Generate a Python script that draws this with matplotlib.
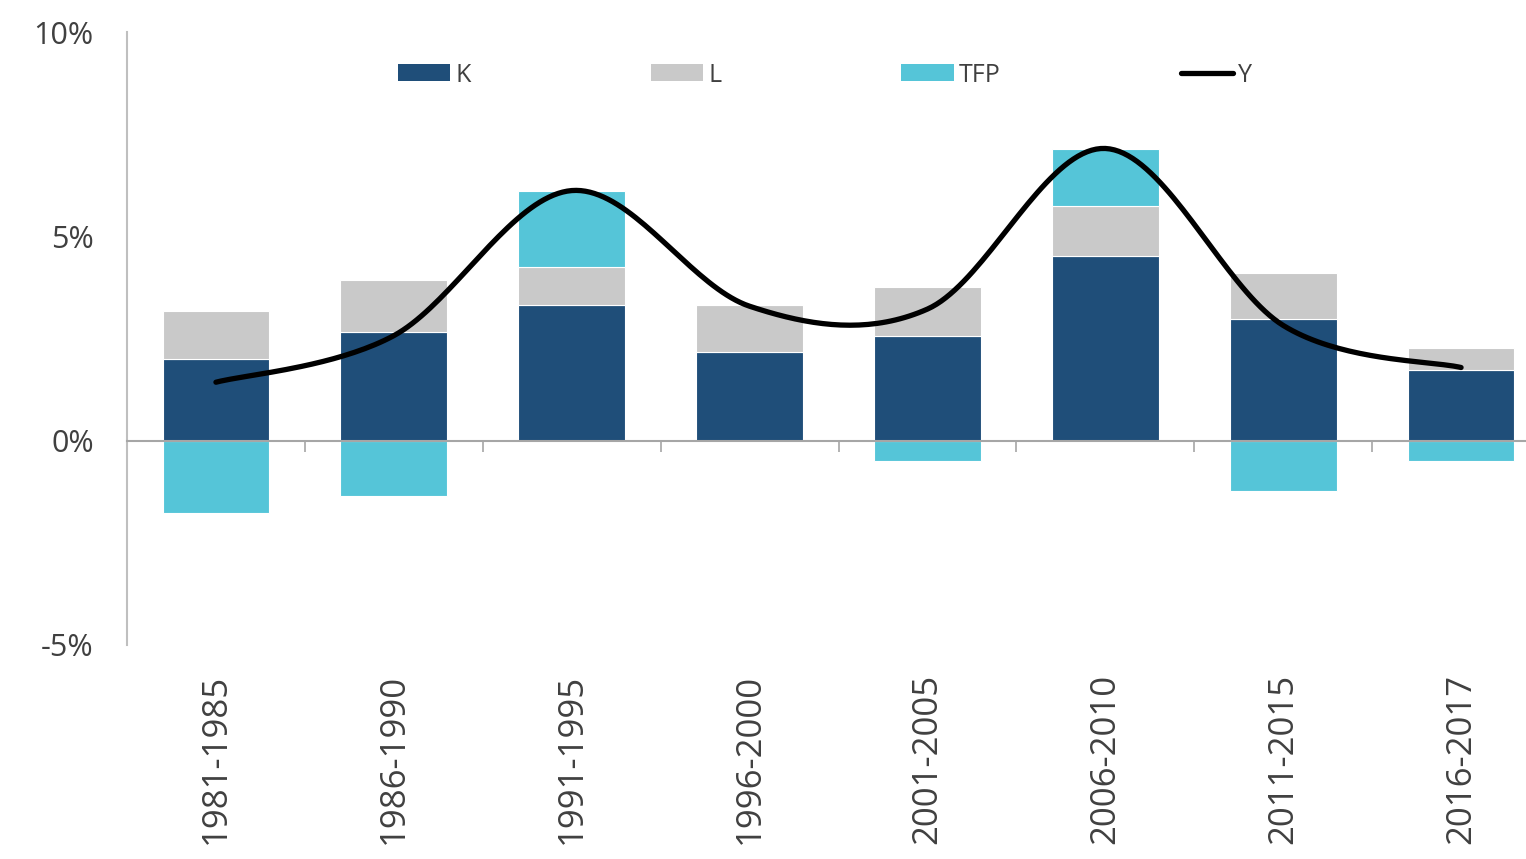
"""growth accounting: K, L, TFP contributions and Y"""

import numpy as np
import matplotlib
matplotlib.use("Agg")
from matplotlib import pyplot as plt
from matplotlib.lines import Line2D
from matplotlib.patches import Patch

# datos (puntos porcentuales)
periodos = ["1981-1985", "1986-1990", "1991-1995", "1996-2000",
            "2001-2005", "2006-2010", "2011-2015", "2016-2017"]
k = [2.00, 2.65, 3.31, 2.16, 2.57, 4.53, 2.97, 1.72]
l = [1.17, 1.27, 0.93, 1.15, 1.18, 1.21, 1.13, 0.54]
tfp = [-1.76, -1.35, 1.86, 0.00, -0.49, 1.40, -1.23, -0.49]
y = [1.43, 2.57, 6.12, 3.29, 3.22, 7.15, 2.82, 1.79]
y_ticks = [-5, 0, 5, 10]
y_labels = ["-5%", "0%", "5%", "10%"]

C_K = "#1f4e79"
C_L = "#c9c9c9"
C_TFP = "#55c5d8"
TXT = "#404040"

plt.rcParams["font.family"] = ["Open Sans", "DejaVu Sans"]


# suavizado tipo Excel (Catmull-Rom)
def suavizar(xs, ys, n=40):
    xs = np.asarray(xs, float)
    ys = np.asarray(ys, float)
    px = np.concatenate([[xs[0]], xs, [xs[-1]]])
    py = np.concatenate([[ys[0]], ys, [ys[-1]]])
    out_x, out_y = [], []
    for i in range(1, len(px) - 2):
        t = np.linspace(0, 1, n)
        h00 = 2*t**3 - 3*t**2 + 1
        h10 = t**3 - 2*t**2 + t
        h01 = -2*t**3 + 3*t**2
        h11 = t**3 - t**2
        mx0 = (px[i+1] - px[i-1]) / 2
        mx1 = (px[i+2] - px[i]) / 2
        my0 = (py[i+1] - py[i-1]) / 2
        my1 = (py[i+2] - py[i]) / 2
        out_x.append(h00*px[i] + h10*mx0 + h01*px[i+1] + h11*mx1)
        out_y.append(h00*py[i] + h10*my0 + h01*py[i+1] + h11*my1)
    return np.concatenate(out_x), np.concatenate(out_y)


fig = plt.figure(figsize=(15.26, 8.59), dpi=100)
ax = fig.add_axes([127/1526, 1 - 645/859, 1 - 127/1526, (645 - 32)/859])

x = np.arange(len(periodos))
k_a = np.array(k)
l_a = np.array(l)
tfp_a = np.array(tfp)
base_tfp = np.where(tfp_a >= 0, k_a + l_a, 0)

ancho = 0.6
ax.bar(x, k_a, ancho, color=C_K, edgecolor="white", linewidth=0.8, zorder=2)
ax.bar(x, l_a, ancho, bottom=k_a, color=C_L, edgecolor="white",
       linewidth=0.8, zorder=2)
ax.bar(x, tfp_a, ancho, bottom=base_tfp, color=C_TFP, edgecolor="white",
       linewidth=0.8, zorder=2)

sx, sy = suavizar(x, y)
ax.plot(sx, sy, color="black", linewidth=3.8, solid_capstyle="round",
        zorder=4)

ax.set_xlim(-0.494, 7.365)
ax.set_ylim(-5, 10)

# ejes
for s in ["top", "right"]:
    ax.spines[s].set_visible(False)
ax.spines["left"].set_color("#bfbfbf")
ax.spines["left"].set_linewidth(1.5)
ax.spines["bottom"].set_position(("data", 0))
ax.spines["bottom"].set_color("#a6a6a6")
ax.spines["bottom"].set_linewidth(1.5)
ax.spines["bottom"].set_zorder(3)

ax.set_xticks(np.arange(-0.5, len(periodos) - 0.5, 1.0))
ax.set_xticklabels([])
ax.tick_params(axis="x", direction="out", length=8, width=1.2,
               color="#a6a6a6")

ax.set_yticks(y_ticks)
ax.set_yticklabels(y_labels)
ax.tick_params(axis="y", length=0, pad=24, labelsize=22, labelcolor=TXT)

for xi, p in zip(x, periodos):
    ax.text(xi, -0.047, p, transform=ax.get_xaxis_transform(),
            rotation=90, ha="center", va="top", fontsize=25, color=TXT)

# leyenda
handles = [
    Patch(facecolor=C_K, edgecolor="none"),
    Patch(facecolor=C_L, edgecolor="none"),
    Patch(facecolor=C_TFP, edgecolor="none"),
    Line2D([], [], color="black", linewidth=3.8, solid_capstyle="round"),
]
leg = fig.legend(handles, ["K", "L", "TFP", "Y"], ncol=4, frameon=False,
                 loc="center left", bbox_to_anchor=(398/1526, 1 - 75/859),
                 bbox_transform=fig.transFigure, borderpad=0,
                 borderaxespad=0, fontsize=18, handlelength=2.1,
                 handleheight=0.65, handletextpad=0.2, columnspacing=7.2)
for t in leg.get_texts():
    t.set_color(TXT)

fig.savefig("out.png", dpi=100)
